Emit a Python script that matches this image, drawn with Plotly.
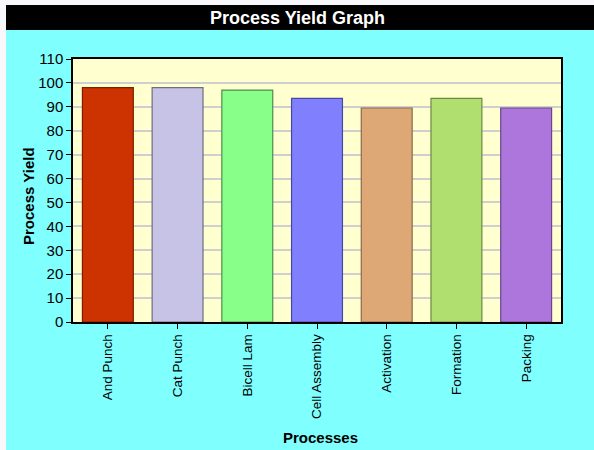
import plotly.graph_objects as go

# Process names and their yields (%)
processes = ["And Punch", "Cat Punch", "Bicell Lam", "Cell Assembly",
             "Activation", "Formation", "Packing"]
yields = [98, 98, 97, 93.5, 89.5, 93.5, 89.5]
bar_colors = ["#CC3300", "#C6C3E6", "#88FF88", "#8080FF",
              "#DDA876", "#B0DF70", "#AC76DD"]
edge_colors = ["#7A1F00", "#6E6C80", "#4C8F4C", "#4848A0",
               "#8A6A4A", "#6A8A42", "#6A4888"]
y_ticks = list(range(0, 111, 10))

W, H = 594, 450
L, R, T, B = 73, 33, 59, 128
pw, ph = W - L - R, H - T - B
FONT = "Liberation Sans, Arial"


def px_x(x):
    return (x - L) / pw


def px_y(y):
    return (H - B - y) / ph


fig = go.Figure()
fig.add_trace(go.Bar(
    x=processes, y=yields,
    marker=dict(color=bar_colors, line=dict(color=edge_colors, width=1.2)),
    width=0.73, hoverinfo="x+y",
))

shapes = [
    # thin white frame at the left and top
    dict(type="rect", xref="paper", yref="paper", layer="below",
         x0=px_x(0), x1=px_x(6), y0=px_y(H), y1=px_y(0),
         fillcolor="#F8F8FC", line_width=0),
    dict(type="rect", xref="paper", yref="paper", layer="below",
         x0=px_x(0), x1=px_x(W), y0=px_y(5), y1=px_y(0),
         fillcolor="#F8F8FC", line_width=0),
    # black title bar
    dict(type="rect", xref="paper", yref="paper", layer="below",
         x0=px_x(6), x1=px_x(W), y0=px_y(30), y1=px_y(5),
         fillcolor="#000000", line_width=0),
]

annotations = [
    dict(text="<b>Process Yield Graph</b>", xref="paper", yref="paper",
         x=px_x(297), y=px_y(18), showarrow=False,
         font=dict(family=FONT, size=18, color="white"),
         xanchor="center", yanchor="middle"),
    dict(text="<b>Process Yield</b>", xref="paper", yref="paper",
         x=px_x(28), y=px_y(196), showarrow=False, textangle=-90,
         font=dict(family=FONT, size=15, color="black"),
         xanchor="center", yanchor="middle"),
    dict(text="<b>Processes</b>", xref="paper", yref="paper",
         x=px_x(320), y=px_y(437), showarrow=False,
         font=dict(family=FONT, size=15, color="black"),
         xanchor="center", yanchor="middle"),
]

fig.update_layout(
    width=W, height=H,
    margin=dict(l=L, r=R, t=T, b=B, pad=0),
    paper_bgcolor="#80FFFF",
    plot_bgcolor="#FFFFD0",
    showlegend=False,
    shapes=shapes,
    annotations=annotations,
    font=dict(family=FONT, size=12, color="black"),
    bargap=0.27,
)
fig.update_xaxes(
    tickangle=-90, ticks="outside", ticklen=5, tickcolor="black",
    showline=True, linecolor="black", linewidth=1.5, mirror=True,
    showgrid=False, tickfont=dict(size=13.5),
)
fig.update_yaxes(
    range=[0, 110], tickvals=y_ticks, ticks="outside", ticklen=5,
    tickcolor="black", showline=True, linecolor="black", linewidth=1.5,
    mirror=True, showgrid=True, gridcolor="#CFCFCF", gridwidth=1.5,
    zeroline=False, tickfont=dict(size=15),
)

fig.write_html("out.html")
